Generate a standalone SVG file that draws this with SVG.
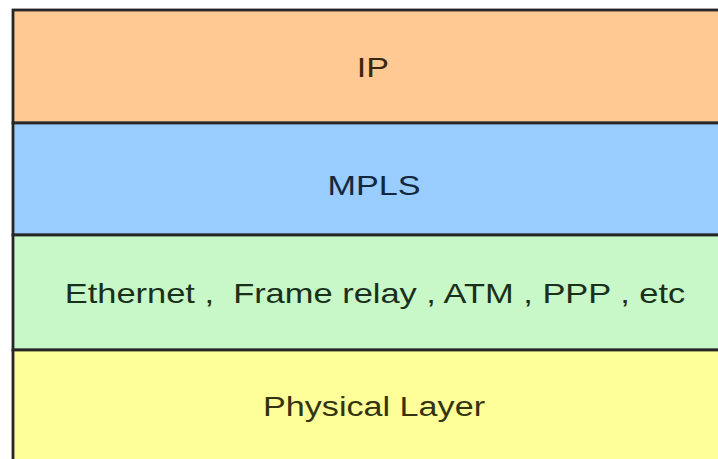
<svg xmlns="http://www.w3.org/2000/svg" width="718" height="459" viewBox="0 0 718 459">
<style>
.layer{stroke:#262626;stroke-width:2.8}
.lbl{font-family:"Liberation Sans",Arial,sans-serif;font-size:28px;text-anchor:middle}
</style>
<rect x="0" y="0" width="718" height="459" fill="#ffffff"/>
<g id="ip">
<rect class="layer" x="13" y="10" width="710" height="113" fill="#FFC993"/>
<text class="lbl" transform="translate(373,77) scale(1.22,1)" fill="#3a2614">IP</text>
</g>
<g id="mpls">
<rect class="layer" x="13" y="123" width="710" height="112" fill="#99CCFF"/>
<text class="lbl" transform="translate(374,195) scale(1.22,1)" fill="#14283c">MPLS</text>
</g>
<g id="link">
<rect class="layer" x="13" y="235" width="710" height="115" fill="#C8F7C8"/>
<text class="lbl" transform="translate(375,303) scale(1.23,1)" fill="#1a301a" xml:space="preserve">Ethernet ,  Frame relay , ATM , PPP , etc</text>
</g>
<g id="physical">
<rect class="layer" x="13" y="350" width="710" height="120" fill="#FFFF99"/>
<text class="lbl" transform="translate(374,416) scale(1.22,1)" fill="#33330f">Physical Layer</text>
</g>
<g id="connectors"/>
</svg>
